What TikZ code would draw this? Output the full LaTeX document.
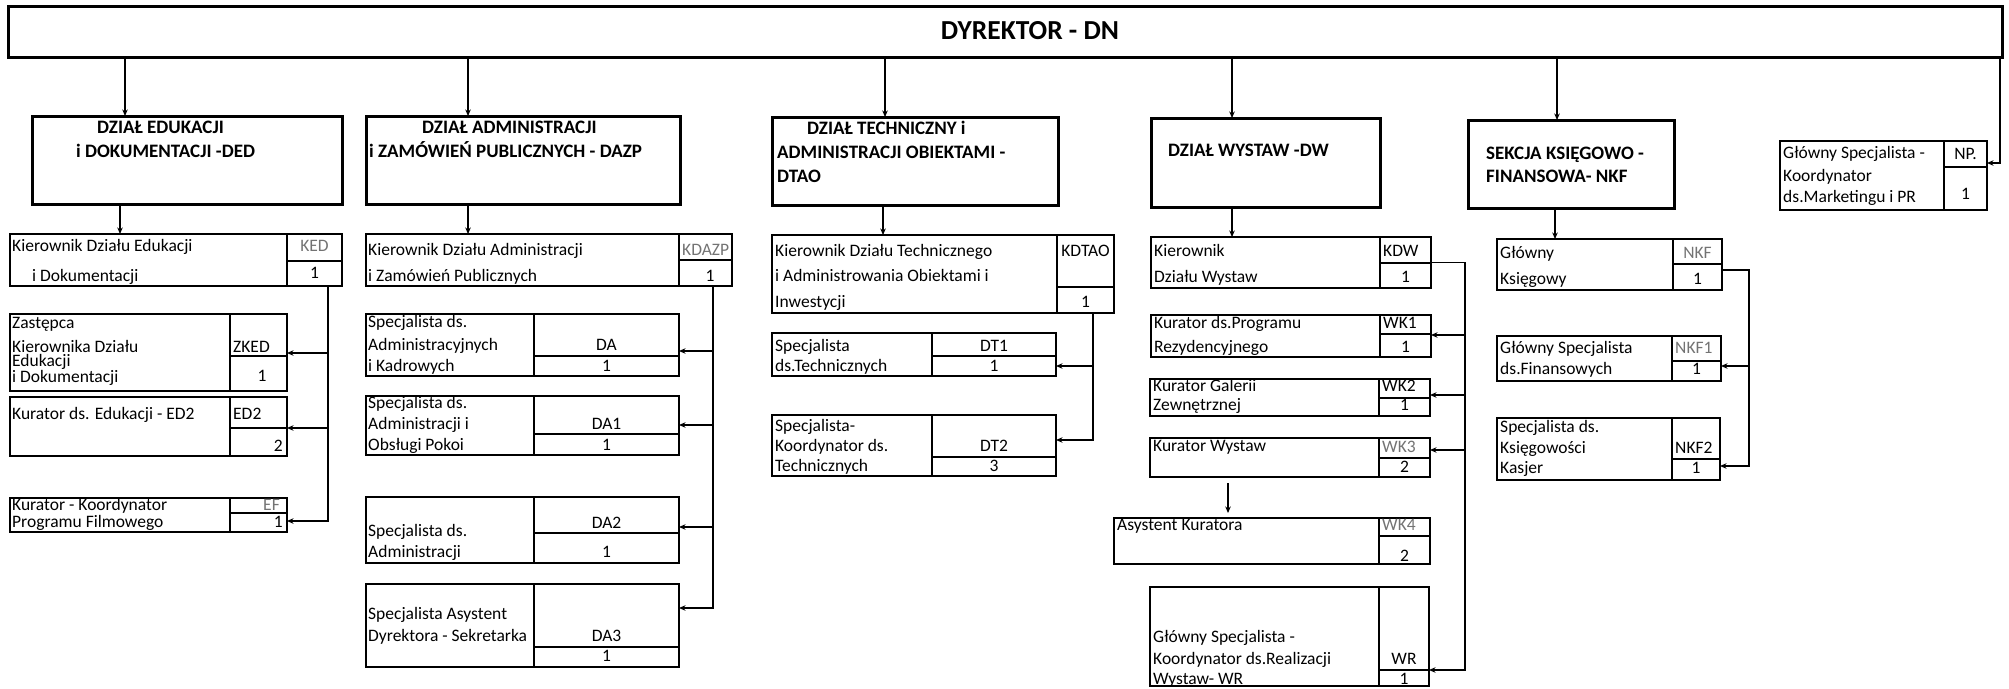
\documentclass[tikz,border=0pt]{standalone}
\usepackage{fontspec}
\setmainfont{Carlito}
\usetikzlibrary{arrows.meta}
\newcounter{tn}
\newcommand{\ebx}[7]{%
  \pgfmathsetlengthmacro\bw{(#4)-(#2)}%
  \pgfmathsetlengthmacro\bh{(#5)-(#3)}%
  \node[ebox, minimum width=\bw, minimum height=\bh, anchor=north west] (#1) at (#2,#3) {};
  \draw[innerl] (#6,#3) -- (#6,#5);
  \draw[innerl] (#6,#7) -- (#4,#7);
}
\newcommand{\dbx}[5]{%
  \pgfmathsetlengthmacro\bw{(#4)-(#2)}%
  \pgfmathsetlengthmacro\bh{(#5)-(#3)}%
  \node[dbox, minimum width=\bw, minimum height=\bh, anchor=north west] (#1) at (#2,#3) {};
}
\newcommand{\tL}[4][]{\stepcounter{tn}\edef\tname{t\arabic{tn}}\node[txt,anchor=west,#1] (\tname) at (#2,#3) {#4};}
\newcommand{\tC}[4][]{\stepcounter{tn}\edef\tname{t\arabic{tn}}\node[txt,anchor=center,#1] (\tname) at (#2,#3) {#4};}
\newcommand{\tR}[4][]{\stepcounter{tn}\edef\tname{t\arabic{tn}}\node[txt,anchor=east,#1] (\tname) at (#2,#3) {#4};}
\newcommand{\tT}[3]{\stepcounter{tn}\edef\tname{t\arabic{tn}}\node[ttl,anchor=west] (\tname) at (#1,#2) {#3};}
\begin{document}
\begin{tikzpicture}[x=1pt,y=-1pt,
  ebox/.style={draw, line width=1.3pt, inner sep=0pt, outer sep=0pt},
  dbox/.style={draw, line width=3pt, inner sep=0pt, outer sep=0pt},
  innerl/.style={line width=1.1pt},
  conn/.style={line width=1.2pt, -{Stealth[length=6.5pt,width=5.5pt]}},
  txt/.style={inner sep=0pt, font=\fontsize{17.5}{20}\selectfont, text height=12pt, text depth=4pt},
  ttl/.style={inner sep=0pt, font=\bfseries\fontsize{19}{22}\selectfont, text height=13pt, text depth=4pt},
  gry/.style={text=black!55},
]
\useasboundingbox (0,0) rectangle (2009,688);

% top
\node[dbox, minimum width=1994pt, minimum height=51pt, anchor=north west] (top) at (8,6) {};
\node[inner sep=0pt, font=\bfseries\fontsize{27.5}{32}\selectfont] (toptxt) at (1030,31) {DYREKTOR - DN};

% departments
\dbx{ded}{32}{116}{342}{204}
\tT{97}{129}{DZIAŁ EDUKACJI}
\tT{76}{153}{i DOKUMENTACJI -DED}
\dbx{dazp}{366}{116}{680}{204}
\tT{422}{129}{DZIAŁ ADMINISTRACJI}
\tT{369}{153}{i ZAMÓWIEŃ PUBLICZNYCH - DAZP}
\dbx{dtao}{772}{117}{1058}{205}
\tT{807}{130}{DZIAŁ TECHNICZNY i}
\tT{777}{154}{ADMINISTRACJI OBIEKTAMI -}
\tT{777}{178}{DTAO}
\dbx{dw}{1151}{118}{1380}{207}
\tT{1168}{152}{DZIAŁ WYSTAW -DW}
\dbx{nkf}{1468}{120}{1674}{208}
\tT{1486}{155}{SEKCJA KSIĘGOWO -}
\tT{1486}{178}{FINANSOWA- NKF}

% ED column
\ebx{ked}{10}{234}{342}{286}{287}{261}
\tL{12}{247}{Kierownik Działu Edukacji}
\tL{32}{277}{i Dokumentacji}
\tC[gry]{314.5}{247}{KED}
\tC{314.5}{274}{1}
\ebx{zked}{10}{314}{287}{391}{230}{356}
\tL{12}{324}{Zastępca}
\tL{12}{348}{Kierownika Działu}
\tL{12}{362}{Edukacji}
\tL{12}{378}{i Dokumentacji}
\tL{233}{348}{ZKED}
\tC{262}{377}{1}
\ebx{ed2}{10}{397}{287}{456}{230}{428}
\tL{12}{415}{Kurator ds. Edukacji - ED2}
\tL{233}{415}{ED2}
\tR{283}{447}{2}
\ebx{ef}{10}{498}{287}{532}{230}{513}
\tL{12}{506}{Kurator - Koordynator}
\tL{12}{523}{Programu Filmowego}
\tR[gry]{280}{506}{EF}
\tR{283}{523}{1}

% DAZP column
\ebx{kdazp}{366}{234}{732}{286}{679}{260}
\tL{368}{251}{Kierownik Działu Administracji}
\tL{368}{277}{i Zamówień Publicznych}
\tL[gry]{682}{251}{KDAZP}
\tC{710}{277}{1}
\ebx{da}{366}{314}{679}{376}{534}{356}
\tL{368}{323}{Specjalista ds.}
\tL{368}{346}{Administracyjnych}
\tL{368}{367}{i Kadrowych}
\tC{606.5}{346}{DA}
\tC{606.5}{367}{1}
\ebx{da1}{366}{396}{679}{455}{534}{434}
\tL{368}{404}{Specjalista ds.}
\tL{368}{425}{Administracji i}
\tL{368}{446}{Obsługi Pokoi}
\tC{606.5}{425}{DA1}
\tC{606.5}{446}{1}
\ebx{da2}{366}{497}{679}{563}{534}{533}
\tL{368}{532}{Specjalista ds.}
\tL{368}{553}{Administracji}
\tC{606.5}{524}{DA2}
\tC{606.5}{553}{1}
\ebx{da3}{366}{584}{679}{667}{534}{647}
\tL{368}{615}{Specjalista Asystent}
\tL{368}{637}{Dyrektora - Sekretarka}
\tC{606.5}{637}{DA3}
\tC{606.5}{657}{1}

% DTAO column
\ebx{kdtao}{772}{235}{1114}{313}{1057}{287}
\tL{775}{252}{Kierownik Działu Technicznego}
\tL{775}{277}{i Administrowania Obiektami i}
\tL{775}{303}{Inwestycji}
\tC{1085.5}{252}{KDTAO}
\tC{1085.5}{303}{1}
\ebx{dt1}{772}{333}{1056}{376}{932}{356}
\tL{775}{347}{Specjalista}
\tL{775}{367}{ds.Technicznych}
\tC{994}{347}{DT1}
\tC{994}{367}{1}
\ebx{dt2}{772}{415}{1056}{476}{932}{457}
\tL{775}{427}{Specjalista-}
\tL{775}{447}{Koordynator ds.}
\tL{775}{467}{Technicznych}
\tC{994}{447}{DT2}
\tC{994}{467}{3}

% DW column
\ebx{kdw}{1151}{237}{1431}{288}{1380}{263}
\tL{1154}{252}{Kierownik}
\tL{1154}{278}{Działu Wystaw}
\tL{1383}{252}{KDW}
\tC{1405.5}{278}{1}
\ebx{wk1}{1151}{315}{1431}{357}{1380}{334}
\tL{1154}{324}{Kurator ds.Programu}
\tL{1154}{348}{Rezydencyjnego}
\tL{1383}{324}{WK1}
\tC{1405.5}{348}{1}
\ebx{wk2}{1150}{379}{1430}{416}{1379}{398}
\tL{1153}{387}{Kurator Galerii}
\tL{1153}{406}{Zewnętrznej}
\tL{1382}{387}{WK2}
\tC{1404.5}{406}{1}
\ebx{wk3}{1150}{438}{1430}{477}{1379}{458}
\tL{1153}{447}{Kurator Wystaw}
\tL[gry]{1382}{448}{WK3}
\tC{1404.5}{468}{2}
\ebx{wk4}{1114}{518}{1430}{564}{1379}{536}
\tL{1117}{526}{Asystent Kuratora}
\tL[gry]{1382}{526}{WK4}
\tC{1404.5}{557}{2}
\ebx{wr}{1150}{587}{1429}{686}{1379}{670}
\tL{1153}{638}{Główny Specjalista -}
\tL{1153}{660}{Koordynator ds.Realizacji}
\tL{1153}{680}{Wystaw- WR}
\tC{1404}{660}{WR}
\tC{1404}{680}{1}

% NKF column
\ebx{nkfb}{1497}{239}{1722}{290}{1673}{264}
\tL{1500}{254}{Główny}
\tL{1500}{280}{Księgowy}
\tC[gry]{1697.5}{254}{NKF}
\tC{1697.5}{280}{1}
\ebx{nkf1}{1497}{336}{1721}{381}{1672}{361}
\tL{1500}{349}{Główny Specjalista}
\tL{1500}{370}{ds.Finansowych}
\tL[gry]{1675}{349}{NKF1}
\tC{1696.5}{370}{1}
\ebx{nkf2}{1497}{418}{1720}{480}{1672}{459}
\tL{1500}{428}{Specjalista ds.}
\tL{1500}{449}{Księgowości}
\tL{1500}{469}{Kasjer}
\tL{1675}{449}{NKF2}
\tC{1696}{469}{1}

% NP
\ebx{np}{1780}{141}{1987}{210}{1944}{167}
\tL{1783}{154}{Główny Specjalista -}
\tL{1783}{177}{Koordynator}
\tL{1783}{198}{ds.Marketingu i PR}
\tC{1965.5}{155}{NP.}
\tC{1965.5}{195}{1}

% connectors from top
\path ([xshift=-62pt]ded.north) coordinate (dedin);
\path ([xshift=-55pt]dazp.north) coordinate (dazpin);
\path ([xshift=-30pt]dtao.north) coordinate (dtaoin);
\path ([xshift=-33.5pt]dw.north) coordinate (dwin);
\path ([xshift=-14pt]nkf.north) coordinate (nkfin);
\draw[conn] (top.south -| dedin) -- (dedin);
\draw[conn] (top.south -| dazpin) -- (dazpin);
\draw[conn] (top.south -| dtaoin) -- (dtaoin);
\draw[conn] (top.south -| dwin) -- (dwin);
\draw[conn] (top.south -| nkfin) -- (nkfin);
\draw[conn] ([xshift=-2pt]top.south east) |- ([yshift=12.5pt]np.east);

% dept to heads
\path ([xshift=-67pt]ded.south) coordinate (dedout);
\path ([xshift=-55pt]dazp.south) coordinate (dazpout);
\path ([xshift=-32pt]dtao.south) coordinate (dtaoout);
\path ([xshift=-33.5pt]dw.south) coordinate (dwout);
\path ([xshift=-16pt]nkf.south) coordinate (nkfout);
\draw[conn] (dedout) -- (dedout |- ked.north);
\draw[conn] (dazpout) -- (dazpout |- kdazp.north);
\draw[conn] (dtaoout) -- (dtaoout |- kdtao.north);
\draw[conn] (dwout) -- (dwout |- kdw.north);
\draw[conn] (nkfout) -- (nkfout |- nkfb.north);

% ED spine
\draw[conn] ([xshift=-14pt]ked.south east) |- ([yshift=-0.5pt]zked.east);
\draw[conn] ([xshift=-14pt]ked.south east) |- ([yshift=-1.5pt]ed2.east);
\draw[conn] ([xshift=-14pt]ked.south east) |- ([yshift=-6pt]ef.east);
% DAZP spine
\draw[conn] ([xshift=-19pt]kdazp.south east) |- ([yshift=-6pt]da.east);
\draw[conn] ([xshift=-19pt]kdazp.south east) |- ([yshift=0.5pt]da1.east);
\draw[conn] ([xshift=-19pt]kdazp.south east) |- ([yshift=3pt]da2.east);
\draw[conn] ([xshift=-19pt]kdazp.south east) |- ([yshift=17.5pt]da3.east);
% DTAO spine
\draw[conn] ([xshift=-21pt]kdtao.south east) |- ([yshift=-11.5pt]dt1.east);
\draw[conn] ([xshift=-21pt]kdtao.south east) |- ([yshift=5.5pt]dt2.east);
% DW spine
\draw[conn] (kdw.east) -- ++(34,0) |- ([yshift=1pt]wk1.east);
\draw[conn] (kdw.east) -- ++(34,0) |- ([yshift=2.5pt]wk2.east);
\draw[conn] (kdw.east) -- ++(34,0) |- ([yshift=7.5pt]wk3.east);
\draw[conn] (kdw.east) -- ++(34,0) |- ([yshift=-33.5pt]wr.east);
\path ([xshift=-62pt]wk3.south) coordinate (wk3out);
\draw[conn, shorten <=6pt, shorten >=5pt] (wk3out) -- (wk3out |- wk4.north);
% NKF spine
\draw[conn] ([yshift=-5.5pt]nkfb.east) -- ++(27,0) |- ([yshift=-7.5pt]nkf1.east);
\draw[conn] ([yshift=-5.5pt]nkfb.east) -- ++(27,0) |- ([yshift=-17pt]nkf2.east);
\end{tikzpicture}
\end{document}
